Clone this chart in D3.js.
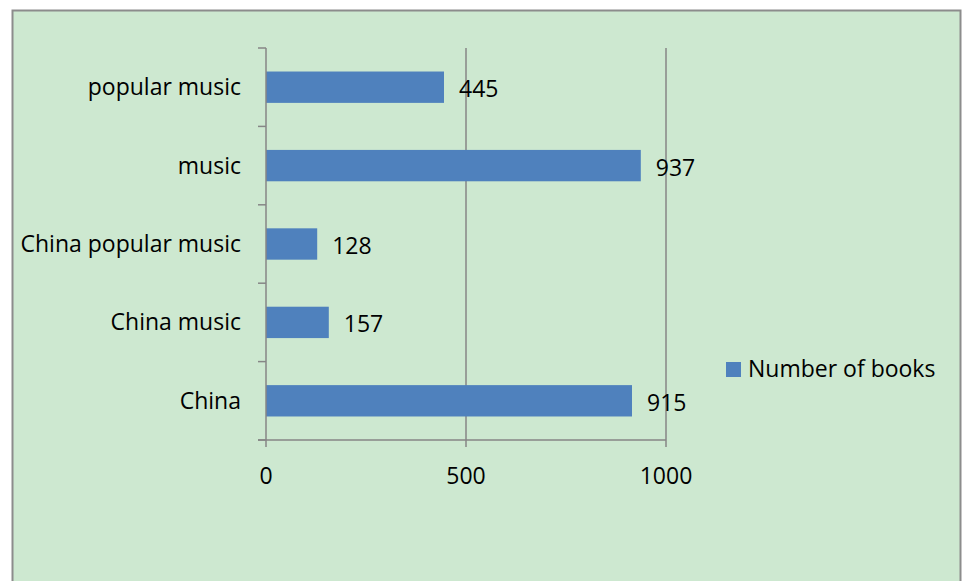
<!DOCTYPE html>
<html><head><meta charset="utf-8">
<script src="https://cdn.jsdelivr.net/npm/d3@7"></script>
<style>body{margin:0;background:#fff;}svg{display:block;}</style>
</head><body>
<script>
const categories = ["popular music", "music", "China popular music", "China music", "China"];
const values = [445, 937, 128, 157, 915];
const tickValues = [0, 500, 1000];
const seriesName = "Number of books";

const W = 962, H = 581;
const svg = d3.select("body").append("svg").attr("width", W).attr("height", H);
const font = "Open Sans, Noto Sans, sans-serif";
const fs = 23;
svg.append("rect").attr("x", 12.5).attr("y", 10.5).attr("width", 948).attr("height", 600)
  .attr("fill", "#cde8d0").attr("stroke", "#8c8c8c").attr("stroke-width", 2);

const x = d3.scaleLinear().domain([0, 1000]).range([266, 666]);
const y = d3.scaleBand().domain(categories).range([48, 440]).paddingInner(0.6).paddingOuter(0.3);
const yb = d3.scaleBand().domain(categories).range([48, 440]);

// gridlines
svg.selectAll(".grid").data(tickValues.slice(1)).enter().append("line")
  .attr("x1", d => x(d)).attr("x2", d => x(d)).attr("y1", 48).attr("y2", 447)
  .attr("stroke", "#868686").attr("stroke-width", 1.5);

// bars
svg.selectAll(".bar").data(values).enter().append("rect")
  .attr("x", x(0)).attr("y", (d, i) => y(categories[i]))
  .attr("width", d => x(d) - x(0)).attr("height", y.bandwidth())
  .attr("fill", "#4f81bd");

// y axis
svg.append("line").attr("x1", 266).attr("x2", 266).attr("y1", 48).attr("y2", 447)
  .attr("stroke", "#868686").attr("stroke-width", 1.5);
const bounds = categories.map(c => yb(c)).concat([440]);
svg.selectAll(".ytick").data(bounds).enter().append("line")
  .attr("x1", 258).attr("x2", 266).attr("y1", d => d).attr("y2", d => d)
  .attr("stroke", "#868686").attr("stroke-width", 1.5);
// x axis
svg.append("line").attr("x1", 258).attr("x2", 666).attr("y1", 440).attr("y2", 440)
  .attr("stroke", "#868686").attr("stroke-width", 1.5);

// category labels
svg.selectAll(".ylab").data(categories).enter().append("text")
  .attr("x", 241).attr("y", d => yb(d) + yb.bandwidth() / 2 + 8)
  .attr("text-anchor", "end").attr("font-family", font).attr("font-size", fs)
  .attr("fill", "#000").text(d => d);

// x tick labels
svg.selectAll(".xlab").data(tickValues).enter().append("text")
  .attr("x", d => x(d)).attr("y", 484).attr("text-anchor", "middle")
  .attr("font-family", font).attr("font-size", fs).text(d => d);

// value labels
svg.selectAll(".vlab").data(values).enter().append("text")
  .attr("x", d => x(d) + 15).attr("y", (d, i) => y(categories[i]) + y.bandwidth() / 2 + 10)
  .attr("font-family", font).attr("font-size", fs).text(d => d);

// legend
svg.append("rect").attr("x", 726).attr("y", 362).attr("width", 15).attr("height", 15).attr("fill", "#4f81bd");
svg.append("text").attr("x", 748).attr("y", 377).attr("font-family", font).attr("font-size", fs).text(seriesName);
</script>
</body></html>
